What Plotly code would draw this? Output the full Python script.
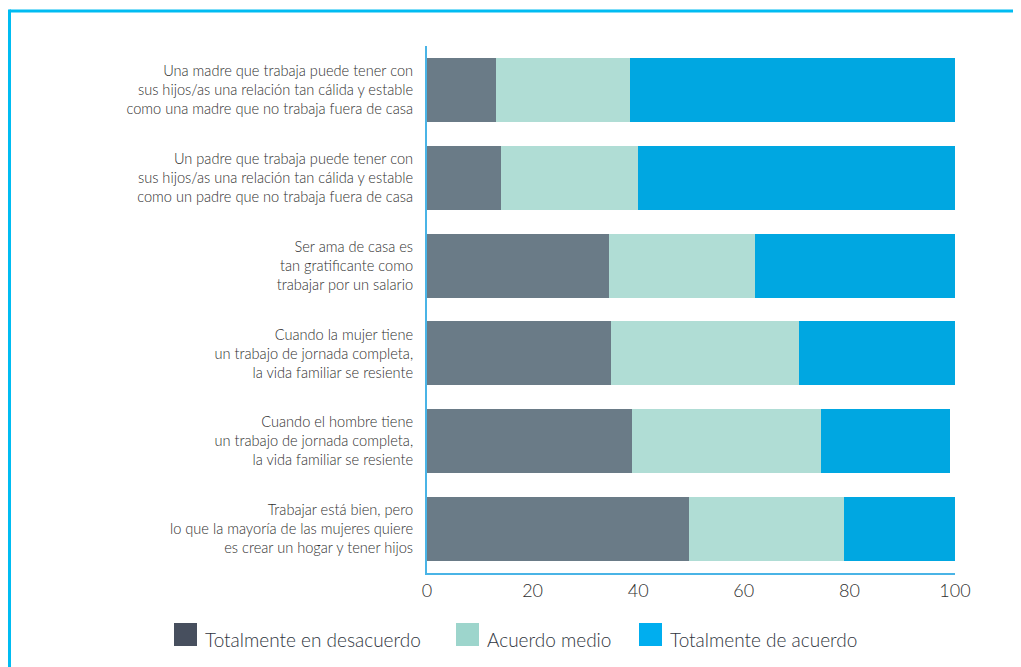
import plotly.graph_objects as go

categories = [
    "Una madre que trabaja puede tener con<br>sus hijos/as una relación tan cálida y estable<br>como una madre que no trabaja fuera de casa",
    "Un padre que trabaja puede tener con<br>sus hijos/as una relación tan cálida y estable<br>como un padre que no trabaja fuera de casa",
    "Ser ama de casa es<br>tan gratificante como<br>trabajar por un salario",
    "Cuando la mujer tiene<br>un trabajo de jornada completa,<br>la vida familiar se resiente",
    "Cuando el hombre tiene<br>un trabajo de jornada completa,<br>la vida familiar se resiente",
    "Trabajar está bien, pero<br>lo que la mayoría de las mujeres quiere<br>es crear un hogar y tener hijos",
]
series_names = ["Totalmente en desacuerdo", "Acuerdo medio", "Totalmente de acuerdo"]
desacuerdo = [13.1, 14.0, 34.5, 34.9, 38.9, 49.7]
medio = [25.4, 26.0, 27.7, 35.5, 35.7, 29.2]
acuerdo = [61.5, 60.0, 37.8, 29.6, 24.4, 21.1]
x_ticks = [0, 20, 40, 60, 80, 100]

bar_colors = ["#6a7b87", "#b0ddd5", "#00a7e1"]
legend_colors = ["#474f5e", "#9dd5cc", "#00aeef"]
FONT = "Lato"

fig = go.Figure()
for name, vals, col in zip(series_names, [desacuerdo, medio, acuerdo], bar_colors):
    fig.add_trace(go.Bar(y=categories, x=vals, name=name, orientation="h",
                         marker=dict(color=col, line=dict(width=0)), width=0.73,
                         showlegend=False))

# page body has an 8px margin: work in screen pixels, shifted by OFF
OFF = 8
FW, FH = 1013, 659
L, R, T, B = 427 - OFF, 955 - OFF, 46 - OFF, 573 - OFF
W, H = R - L, B - T
def px(x):
    return (x - OFF - L) / W
def py(y):
    return (B - (y - OFF)) / H

shapes = [
    dict(type="line", xref="paper", yref="paper", x0=px(9.5), x1=px(1030), y0=py(11), y1=py(11),
         line=dict(color="#00bcf2", width=3)),
    dict(type="line", xref="paper", yref="paper", x0=px(9.5), x1=px(9.5), y0=py(9.5), y1=py(680),
         line=dict(color="#00bcf2", width=3)),
]
annotations = []
leg_x = [174, 456, 639]
for name, col, lx in zip(series_names, legend_colors, leg_x):
    shapes.append(dict(type="rect", xref="paper", yref="paper", x0=px(lx), x1=px(lx + 23),
                       y0=py(646), y1=py(623), fillcolor=col, line=dict(width=0)))
    annotations.append(dict(xref="paper", yref="paper", x=px(lx + 29), y=py(639), text=name,
                            showarrow=False, xanchor="left", yanchor="middle",
                            font=dict(family=FONT, size=19, weight=300, color="#2f3540")))

fig.update_layout(
    barmode="stack",
    width=FW, height=FH,
    margin=dict(l=L, r=FW - R, t=T, b=FH - B, autoexpand=False),
    paper_bgcolor="white", plot_bgcolor="white",
    font=dict(family=FONT, size=15, color="#2f2f2f", weight=300),
    shapes=shapes, annotations=annotations,
    xaxis=dict(range=[0, 100], tickvals=x_ticks, showgrid=False, zeroline=False,
               showline=True, linecolor="#4ab4e6", linewidth=2, ticks="",
               tickfont=dict(family=FONT, size=18, color="#2f2f2f", weight=300), fixedrange=True),
    yaxis=dict(categoryorder="array", categoryarray=categories[::-1], autorange=False,
               range=[-0.5, 5.5], showgrid=False, zeroline=False,
               showline=True, linecolor="#4ab4e6", linewidth=2, ticks="",
               ticklabelstandoff=9,
               tickfont=dict(family=FONT, size=14.6, color="#2f2f2f", weight=300), fixedrange=True),
)
fig.write_html("out.html")
